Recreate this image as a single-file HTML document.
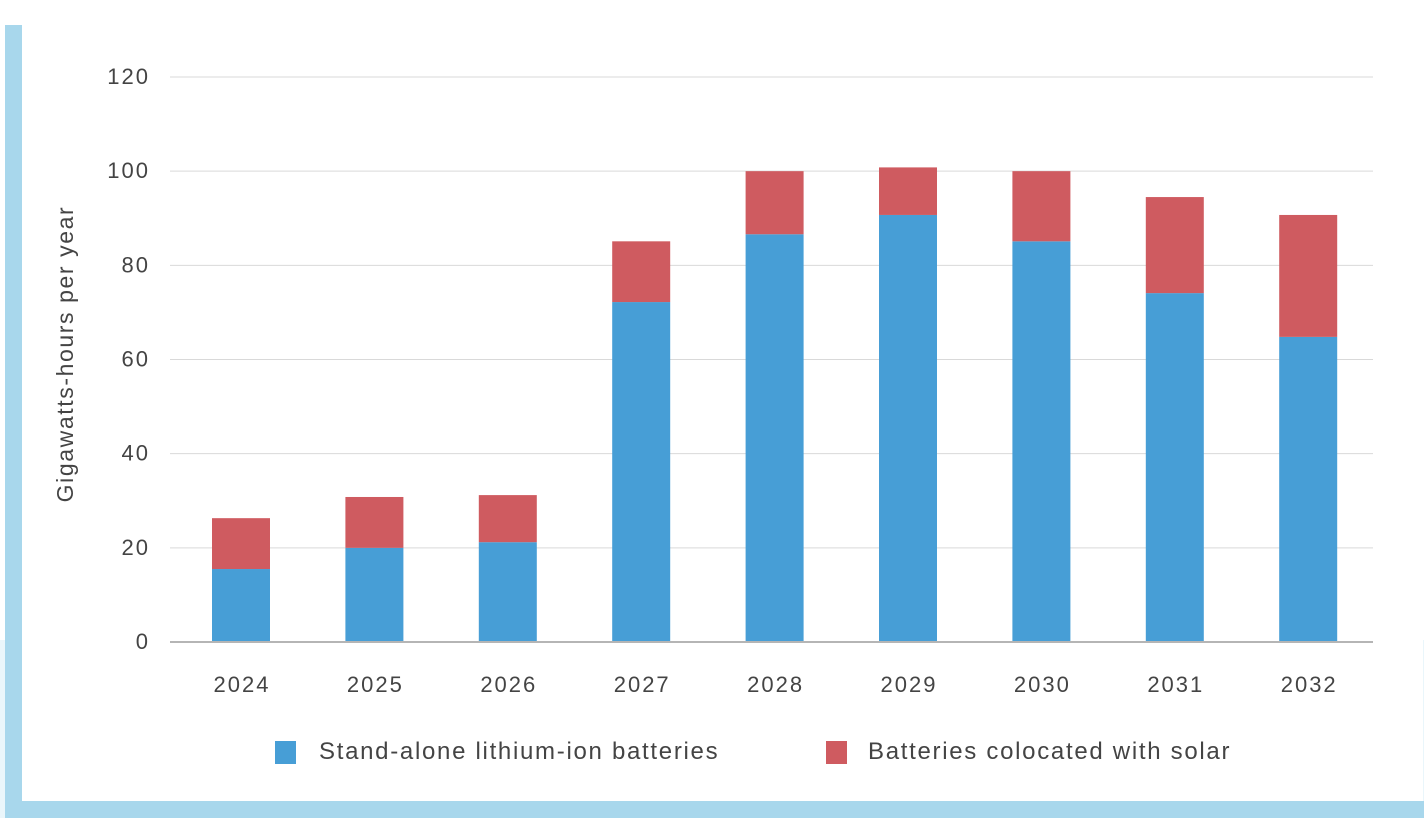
<!DOCTYPE html>
<html><head><meta charset="utf-8"><style>
html,body{margin:0;padding:0;background:#fff;}
body{width:1424px;height:818px;position:relative;overflow:hidden;font-family:"Liberation Sans",sans-serif;}
</style></head><body>
<div style="position:absolute;left:0;top:640px;width:1424px;height:178px;background:#eaf6fb"></div>
<div style="position:absolute;left:22px;top:0;width:1401px;height:801px;background:#fff"></div>
<div style="position:absolute;left:5px;top:25px;width:17px;height:793px;background:#a8d7ec"></div>
<div style="position:absolute;left:5px;top:801px;width:1419px;height:17px;background:#a8d7ec"></div>
<svg id="chart" width="1424" height="818" style="position:absolute;left:0;top:0"></svg>
<script>
const years=["2024","2025","2026","2027","2028","2029","2030","2031","2032"];
const standalone=[15.5,20,21.2,72.2,86.6,90.7,85.1,74.1,64.8];
const colocated=[10.8,10.8,10,12.9,13.4,10.1,14.9,20.4,25.9];
const yTicks=[0,20,40,60,80,100,120];
const NS="http://www.w3.org/2000/svg";
const svg=document.getElementById('chart');
const y0=642,pxPer=(642-77)/120;
function y(v){return y0-v*pxPer;}
function x(i){return 241+i*133.4;}
const bw=58;
function mk(t,a){const e=document.createElementNS(NS,t);for(const k in a)e.setAttribute(k,a[k]);svg.appendChild(e);return e;}
yTicks.forEach(t=>{
  const l=mk('line',{x1:170,x2:1373,y1:y(t),y2:y(t),stroke:t===0?'#b5b5b5':'#d9d9d9','stroke-width':t===0?2:1});
  
  
  const tx=mk('text',{x:150,y:y(t)+7,'text-anchor':'end','font-size':22,'letter-spacing':2,fill:'#444'});
  tx.textContent=t;
  
  
});
years.forEach((yr,i)=>{
  const b=mk('rect',{x:x(i)-bw/2,y:y(standalone[i]),width:bw,height:y(0)-y(standalone[i])-1,fill:'#479ed6'});
  
  
  const tot=standalone[i]+colocated[i];
  const r=mk('rect',{x:x(i)-bw/2,y:y(tot),width:bw,height:y(standalone[i])-y(tot),fill:'#cf5b60'});
  
  
  const t=mk('text',{x:x(i)+1,y:692,'text-anchor':'middle','font-size':22,'letter-spacing':2,fill:'#444'});
  t.textContent=yr;
  
  
});
const at=mk('text',{x:0,y:0,'text-anchor':'middle','font-size':23,'letter-spacing':1.6,fill:'#444',transform:'translate(73,354) rotate(-90)'});
at.textContent='Gigawatts-hours per year';


</script>
<div style="position:absolute;left:0;top:0">
<div style="position:absolute;left:275px;top:741px;white-space:nowrap">
<span style="position:absolute;left:0;top:0;width:21px;height:23px;background:#479ed6"></span>
<span style="position:absolute;left:44px;top:-3px;font-size:24px;letter-spacing:1.7px;color:#444">Stand-alone lithium-ion batteries</span></div>
<div style="position:absolute;left:826px;top:741px;white-space:nowrap">
<span style="position:absolute;left:0;top:0;width:21px;height:23px;background:#cf5b60"></span>
<span style="position:absolute;left:42px;top:-3px;font-size:24px;letter-spacing:1.7px;color:#444">Batteries colocated with solar</span></div>
</div>
</body></html>
